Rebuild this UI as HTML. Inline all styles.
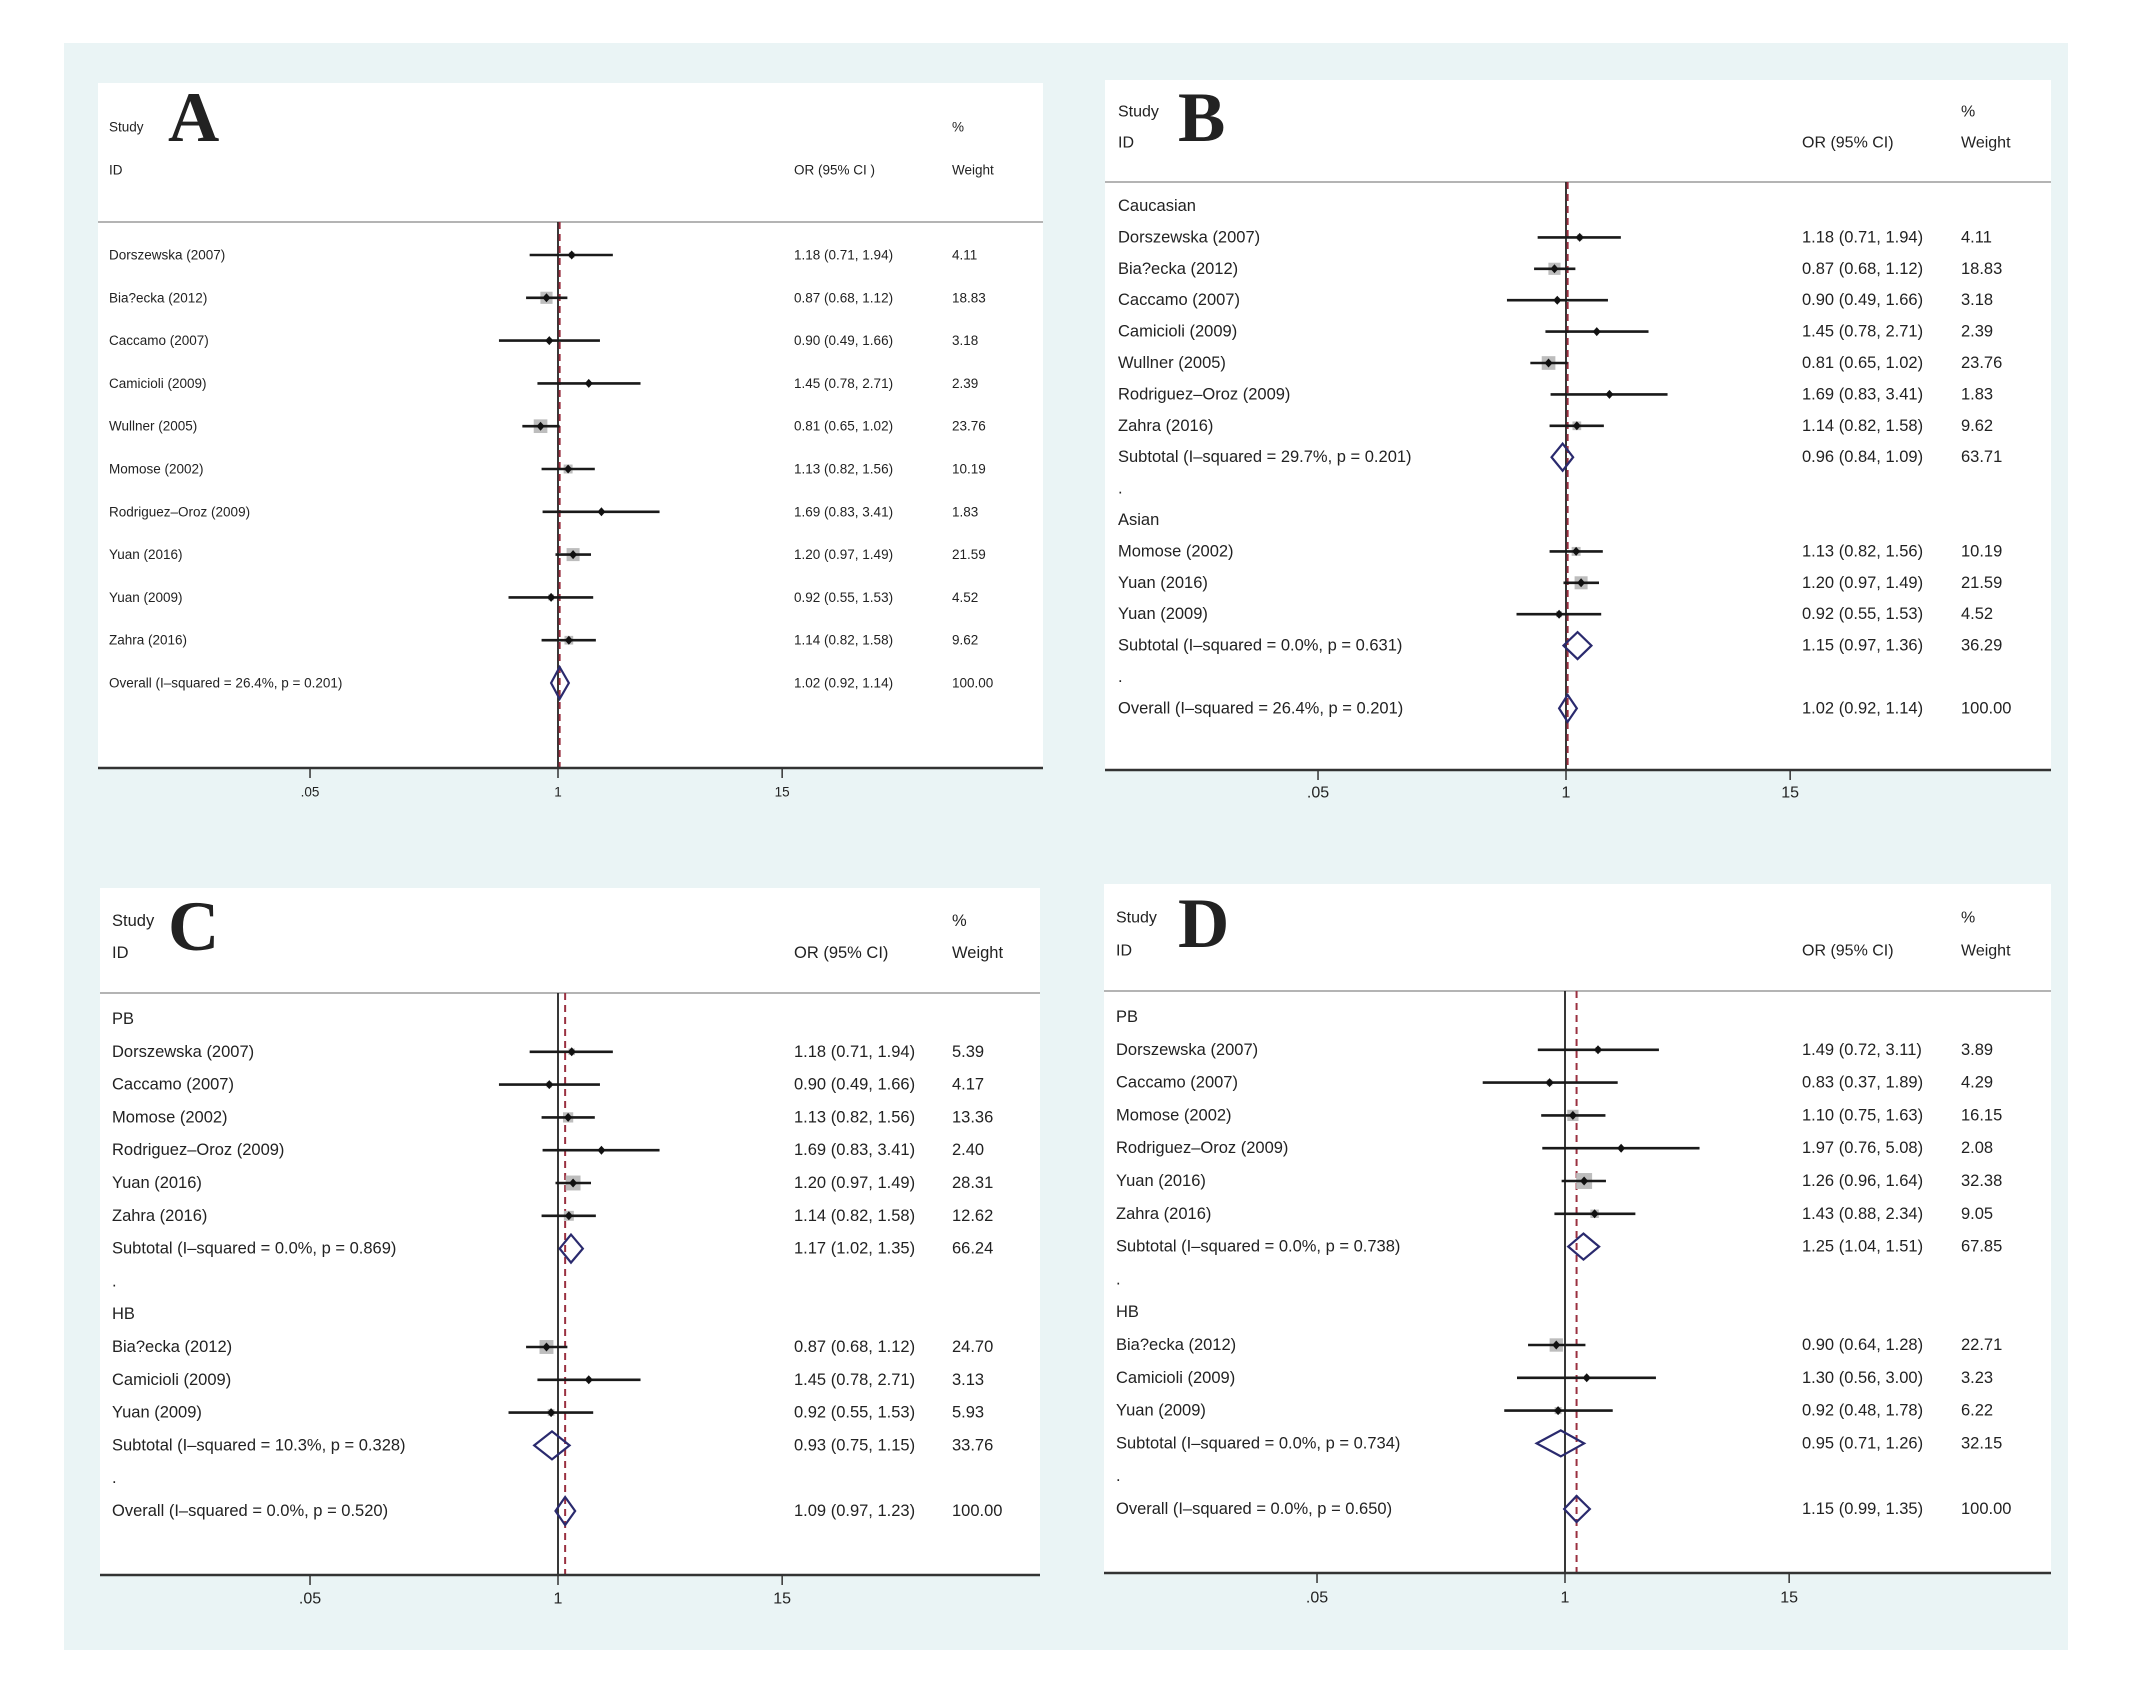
<!DOCTYPE html>
<html><head><meta charset="utf-8"><style>
html,body{margin:0;padding:0;background:#fff;}
svg{display:block;}
text{font-family:"Liberation Sans",sans-serif;fill:#222;}
</style></head>
<body>
<svg id="fig" width="2156" height="1691" viewBox="0 0 2156 1691" xmlns="http://www.w3.org/2000/svg">
<rect x="64" y="43" width="2004" height="1607" fill="#eaf4f5"/>
</svg>
<script>
// ---- data ----
const labelsA = ["Dorszewska (2007)","Bia?ecka (2012)","Caccamo (2007)","Camicioli (2009)","Wullner (2005)","Momose (2002)","Rodriguez\u2013Oroz (2009)","Yuan (2016)","Yuan (2009)","Zahra (2016)","Overall  (I\u2013squared = 26.4%, p = 0.201)"];
const typesA = ["s","s","s","s","s","s","s","s","s","s","d"];
const orA = [1.18,0.87,0.90,1.45,0.81,1.13,1.69,1.20,0.92,1.14,1.02];
const loA = [0.71,0.68,0.49,0.78,0.65,0.82,0.83,0.97,0.55,0.82,0.92];
const hiA = [1.94,1.12,1.66,2.71,1.02,1.56,3.41,1.49,1.53,1.58,1.14];
const wA = [4.11,18.83,3.18,2.39,23.76,10.19,1.83,21.59,4.52,9.62,100.00];

const labelsB = ["Caucasian","Dorszewska (2007)","Bia?ecka (2012)","Caccamo (2007)","Camicioli (2009)","Wullner (2005)","Rodriguez\u2013Oroz (2009)","Zahra (2016)","Subtotal  (I\u2013squared = 29.7%, p = 0.201)",".","Asian","Momose (2002)","Yuan (2016)","Yuan (2009)","Subtotal  (I\u2013squared = 0.0%, p = 0.631)",".","Overall  (I\u2013squared = 26.4%, p = 0.201)"];
const typesB = ["h","s","s","s","s","s","s","s","d","h","h","s","s","s","d","h","d"];
const orB = [0,1.18,0.87,0.90,1.45,0.81,1.69,1.14,0.96,0,0,1.13,1.20,0.92,1.15,0,1.02];
const loB = [0,0.71,0.68,0.49,0.78,0.65,0.83,0.82,0.84,0,0,0.82,0.97,0.55,0.97,0,0.92];
const hiB = [0,1.94,1.12,1.66,2.71,1.02,3.41,1.58,1.09,0,0,1.56,1.49,1.53,1.36,0,1.14];
const wB = [0,4.11,18.83,3.18,2.39,23.76,1.83,9.62,63.71,0,0,10.19,21.59,4.52,36.29,0,100.00];

const labelsC = ["PB","Dorszewska (2007)","Caccamo (2007)","Momose (2002)","Rodriguez\u2013Oroz (2009)","Yuan (2016)","Zahra (2016)","Subtotal  (I\u2013squared = 0.0%, p = 0.869)",".","HB","Bia?ecka (2012)","Camicioli (2009)","Yuan (2009)","Subtotal  (I\u2013squared = 10.3%, p = 0.328)",".","Overall  (I\u2013squared = 0.0%, p = 0.520)"];
const typesC = ["h","s","s","s","s","s","s","d","h","h","s","s","s","d","h","d"];
const orC = [0,1.18,0.90,1.13,1.69,1.20,1.14,1.17,0,0,0.87,1.45,0.92,0.93,0,1.09];
const loC = [0,0.71,0.49,0.82,0.83,0.97,0.82,1.02,0,0,0.68,0.78,0.55,0.75,0,0.97];
const hiC = [0,1.94,1.66,1.56,3.41,1.49,1.58,1.35,0,0,1.12,2.71,1.53,1.15,0,1.23];
const wC = [0,5.39,4.17,13.36,2.40,28.31,12.62,66.24,0,0,24.70,3.13,5.93,33.76,0,100.00];

const labelsD = ["PB","Dorszewska (2007)","Caccamo (2007)","Momose (2002)","Rodriguez\u2013Oroz (2009)","Yuan (2016)","Zahra (2016)","Subtotal  (I\u2013squared = 0.0%, p = 0.738)",".","HB","Bia?ecka (2012)","Camicioli (2009)","Yuan (2009)","Subtotal  (I\u2013squared = 0.0%, p = 0.734)",".","Overall  (I\u2013squared = 0.0%, p = 0.650)"];
const typesD = ["h","s","s","s","s","s","s","d","h","h","s","s","s","d","h","d"];
const orD = [0,1.49,0.83,1.10,1.97,1.26,1.43,1.25,0,0,0.90,1.30,0.92,0.95,0,1.15];
const loD = [0,0.72,0.37,0.75,0.76,0.96,0.88,1.04,0,0,0.64,0.56,0.48,0.71,0,0.99];
const hiD = [0,3.11,1.89,1.63,5.08,1.64,2.34,1.51,0,0,1.28,3.00,1.78,1.26,0,1.35];
const wD = [0,3.89,4.29,16.15,2.08,32.38,9.05,67.85,0,0,22.71,3.23,6.22,32.15,0,100.00];

const tickVals = [0.05,1,15];
const tickLabels = [".05","1","15"];

// ---- drawing ----
const NS = "http://www.w3.org/2000/svg";
const svg = document.getElementById("fig");
function mk(tag, attrs, parent){
  const e = document.createElementNS(NS, tag);
  for (const k in attrs) e.setAttribute(k, attrs[k]);
  (parent||svg).appendChild(e);
  return e;
}
function fmt(v){return v.toFixed(2);}

function panel(cfg, labels, types, ors, los, his, ws){
  const g = mk("g", {});
  
  
  const xs = v => cfg.x1 + Math.log10(v) * 190.6;
  const bg = mk("rect", {x:cfg.left, y:cfg.top, width:cfg.right-cfg.left, height:cfg.axisY-cfg.top, fill:"#fff"}, g);
  
  
  const L = mk("text", {x:cfg.lx, y:cfg.ly, "font-size":71, "font-weight":"bold", style:'font-family:"Liberation Serif",serif', fill:"#111"}, g);
  L.textContent = cfg.letter;
  
  
  const hf = cfg.hfs;
  const heads = [["Study",cfg.textX,cfg.studyY],["ID",cfg.textX,cfg.idY],[cfg.orHead,cfg.orX,cfg.idY],["%",cfg.wX,cfg.studyY],["Weight",cfg.wX,cfg.idY]];
  heads.forEach(h=>{
    const t = mk("text",{x:h[1],y:h[2],"font-size":hf,"dominant-baseline":"central"},g);
    t.textContent = h[0];
    
    
  });
  const hl = mk("line",{x1:cfg.left,x2:cfg.right,y1:cfg.headerLine,y2:cfg.headerLine,stroke:"#b4b4b4","stroke-width":2},g);
  
  
  // null line
  const nl = mk("line",{x1:xs(1),x2:xs(1),y1:cfg.headerLine,y2:cfg.axisY,stroke:"#222","stroke-width":1.8},g);
  
  
  const ov = ors[ors.length-1];
  const dl = mk("line",{x1:xs(ov),x2:xs(ov),y1:cfg.headerLine,y2:cfg.axisY,stroke:"#9a3040","stroke-width":2,"stroke-dasharray":"7,5"},g);
  
  
  // axis
  const ax = mk("line",{x1:cfg.left,x2:cfg.right,y1:cfg.axisY,y2:cfg.axisY,stroke:"#333","stroke-width":2.5},g);
  
  
  tickVals.forEach((v,i)=>{
    const tk = mk("line",{x1:xs(v),x2:xs(v),y1:cfg.axisY,y2:cfg.axisY+10,stroke:"#333","stroke-width":1.5},g);
    
    
    const tl = mk("text",{x:xs(v),y:cfg.tickY,"font-size":cfg.tfs,"text-anchor":"middle","dominant-baseline":"central"},g);
    tl.textContent = tickLabels[i];
    
    
  });
  labels.forEach((lab,i)=>{
    const y = cfg.rowStart + i*cfg.step;
    const t = mk("text",{x:cfg.textX,y:y,"font-size":cfg.fs,"dominant-baseline":"central"},g);
    t.textContent = lab;
    
    
    if (types[i]==="h") return;
    const o = mk("text",{x:cfg.orX,y:y,"font-size":cfg.fs,"dominant-baseline":"central"},g);
    o.textContent = fmt(ors[i])+" ("+fmt(los[i])+", "+fmt(his[i])+")";
    
    
    const w = mk("text",{x:cfg.wX,y:y,"font-size":cfg.fs,"dominant-baseline":"central"},g);
    w.textContent = fmt(ws[i]);
    
    
    if (types[i]==="s"){
      const s = 2.8*Math.sqrt(ws[i]);
      const bx = mk("rect",{x:xs(ors[i])-s/2,y:y-s/2,width:s,height:s,fill:"#bdbdbd"},g);
      
      
      const ci = mk("line",{x1:xs(los[i]),x2:xs(his[i]),y1:y,y2:y,stroke:"#1a1a1a","stroke-width":2.6},g);
      
      
      const px = xs(ors[i]);
      const pt = mk("polygon",{points:`${px-4},${y} ${px},${y-4.5} ${px+4},${y} ${px},${y+4.5}`,fill:"#111"},g);
      
      
    } else {
      const h = cfg.dh, a=xs(los[i]), b=xs(his[i]), c=xs(ors[i]);
      const d = mk("polygon",{points:`${a},${y} ${c},${y-h} ${b},${y} ${c},${y+h}`,fill:"none",stroke:"#2a2a6e","stroke-width":2.2},g);
      
      
    }
  });
}

panel({letter:"A",left:98,right:1043,top:83,axisY:768,headerLine:222,studyY:127,idY:170,textX:109,orX:794,wX:952,x1:558,rowStart:255,step:42.8,fs:13.5,hfs:13.5,tfs:13.5,lx:168,ly:141,tickY:792,dh:16,orHead:"OR (95% CI  )"},labelsA,typesA,orA,loA,hiA,wA);
panel({letter:"B",left:1105,right:2051,top:80,axisY:770,headerLine:182,studyY:112,idY:143,textX:1118,orX:1802,wX:1961,x1:1566,rowStart:206,step:31.4,fs:16.5,hfs:16,tfs:16,lx:1178,ly:141,tickY:793,dh:13.5,orHead:"OR (95% CI)"},labelsB,typesB,orB,loB,hiB,wB);
panel({letter:"C",left:100,right:1040,top:888,axisY:1575,headerLine:993,studyY:921,idY:953,textX:112,orX:794,wX:952,x1:558,rowStart:1019,step:32.8,fs:16.5,hfs:16.5,tfs:16,lx:168,ly:950,tickY:1599,dh:14,orHead:"OR (95% CI)"},labelsC,typesC,orC,loC,hiC,wC);
panel({letter:"D",left:1104,right:2051,top:884,axisY:1573,headerLine:991,studyY:918,idY:951,textX:1116,orX:1802,wX:1961,x1:1565,rowStart:1017,step:32.8,fs:16.5,hfs:16,tfs:16,lx:1178,ly:947,tickY:1598,dh:13,orHead:"OR (95% CI)"},labelsD,typesD,orD,loD,hiD,wD);
</script>
</body></html>
